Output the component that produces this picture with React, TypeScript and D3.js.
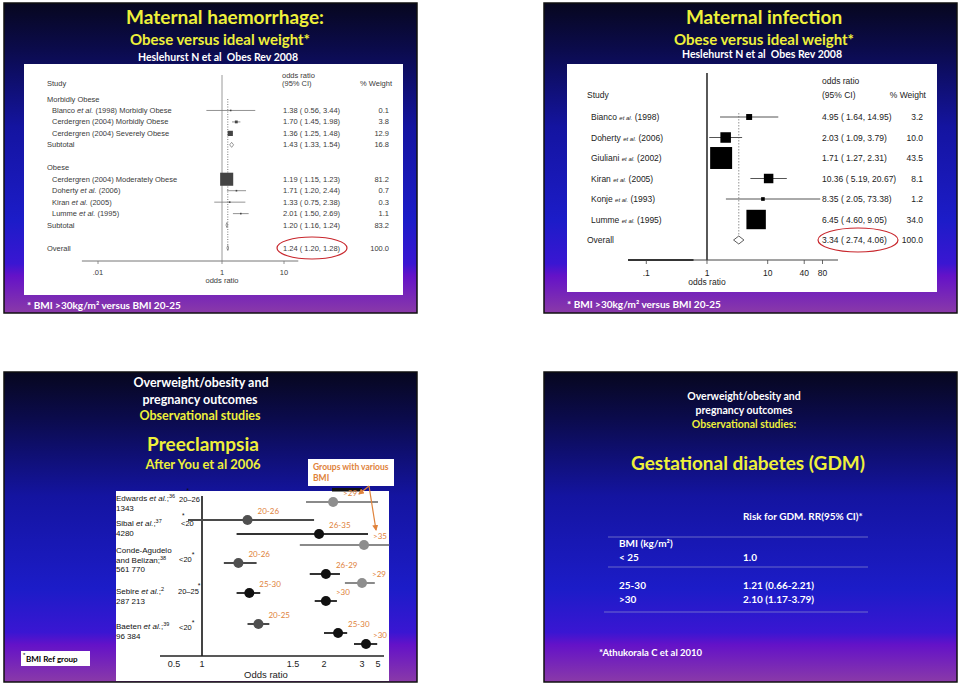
import React from "react";
import * as d3 from "d3";

// ---------- Slide 1: maternal haemorrhage ----------
const haemLabels = [
  "Blanco et al. (1998) Morbidly Obese",
  "Cerdergren (2004) Morbidly Obese",
  "Cerdergren (2004) Severely Obese",
  "Subtotal",
  "Cerdergren (2004) Moderately Obese",
  "Doherty et al. (2006)",
  "Kiran et al. (2005)",
  "Lumme et al. (1995)",
  "Subtotal",
  "Overall",
];
const haemKinds = ["study", "study", "study", "sub", "study", "study", "study", "study", "sub", "overall"];
const haemRows = [1, 2, 3, 4, 7, 8, 9, 10, 11, 13];
const haemOR = [1.38, 1.7, 1.36, 1.43, 1.19, 1.71, 1.33, 2.01, 1.2, 1.24];
const haemLo = [0.56, 1.45, 1.25, 1.33, 1.15, 1.2, 0.75, 1.5, 1.16, 1.2];
const haemHi = [3.44, 1.98, 1.48, 1.54, 1.23, 2.44, 2.38, 2.69, 1.24, 1.28];
const haemWeight = ["0.1", "3.8", "12.9", "16.8", "81.2", "0.7", "0.3", "1.1", "83.2", "100.0"];
const haemGroups = ["Morbidly Obese", "Obese"];
const haemGroupRows = [0, 6];
const haemTicks = [0.01, 1, 10];
const haemTickLabels = [".01", "1", "10"];

// ---------- Slide 2: maternal infection ----------
const infLabels = [
  "Bianco et al. (1998)",
  "Doherty et al. (2006)",
  "Giuliani et al. (2002)",
  "Kiran et al. (2005)",
  "Konje et al. (1993)",
  "Lumme et al. (1995)",
  "Overall",
];
const infOR = [4.95, 2.03, 1.71, 10.36, 8.35, 6.45, 3.34];
const infLo = [1.64, 1.09, 1.27, 5.19, 2.05, 4.6, 2.74];
const infHi = [14.95, 3.79, 2.31, 20.67, 73.38, 9.05, 4.06];
const infWeight = ["3.2", "10.0", "43.5", "8.1", "1.2", "34.0", "100.0"];
const infTicks = [0.1, 1, 10, 40, 80];
const infTickLabels = [".1", "1", "10", "40", "80"];

// ---------- Slide 3: preeclampsia ----------
const preStudies = ["Edwards", "Sibal", "Conde-Agudelo|and Belizan;", "Sebire", "Baeten"];
const preRefs = ["36", "37", "38", "2", "39"];
const preN = ["1343", "4280", "561 770", "287 213", "96 384"];
const preRefBMI = ["20–26", "<20", "<20", "20–25", "<20"];
const preLabelSlot = [-0.1, 2.4, 5.1, 9.2, 12.7];
const preBMI = [">29", "20-26", "26-35", ">35", "20-26", "26-29", ">29", "25-30", ">30", "20-25", "25-30", ">30"];
const preOR = [2.24, 1.25, 1.92, 3.25, 1.2, 2.05, 3.0, 1.26, 2.05, 1.31, 2.37, 3.5];
const preLo = [1.71, 0.75, 1.19, 1.61, 1.12, 1.77, 2.55, 1.19, 1.85, 1.25, 2.0, 2.79];
const preHi = [5.0, 1.84, 3.75, 6.4, 1.3, 2.42, 4.6, 1.32, 2.34, 1.37, 2.61, 4.9];
const preSlot = [0, 1.8, 3.2, 4.3, 6.1, 7.2, 8.1, 9.1, 9.9, 12.2, 13.1, 14.2];
const preShade = ["light", "mid", "dark", "light", "mid", "dark", "light", "dark", "dark", "mid", "dark", "dark"];
const preTicks = [0.5, 1, 1.5, 2, 3, 5];

// ---------- Slide 4: GDM ----------
const gdmBMI = ["< 25", "25-30", ">30"];
const gdmRR = ["1.0", "1.21 (0.66-2.21)", "2.10 (1.17-3.79)"];

const TITLE = "Lato, 'Open Sans', sans-serif";
const PLOT = "'Liberation Sans', Arial, sans-serif";
const YEL = "#eef03a";
const ORANGE = "#e0823a";

function withItalic(lbl: string, size: number) {
  const parts = lbl.split("et al.");
  if (parts.length === 1) return lbl;
  return [
    <tspan key="a">{parts[0]}</tspan>,
    <tspan key="b" fontStyle="italic" fontSize={size}>et al.</tspan>,
    <tspan key="c">{parts[1]}</tspan>,
  ];
}

const fmt = (v: number) => v.toFixed(2);

function Slide({ x, y }: { x: number; y: number }) {
  return <rect x={x} y={y} width={413} height={310} fill="url(#bg)" stroke="#111" strokeWidth={1.5} />;
}

function diamond(xl: number, xc: number, xr: number, yc: number, h: number) {
  return `M${xl},${yc} L${xc},${yc - h} L${xr},${yc} L${xc},${yc + h} Z`;
}

export default function App() {
  // plot 1 scales
  const x1 = d3.scaleLog().domain([0.01, 10]).range([98, 284]);
  const y1 = d3.scaleLinear().domain([0, 13]).range([99, 248]);
  // plot 2 scales
  const x2 = d3.scaleLog().domain([0.1, 80]).range([646.3, 822.5]);
  const y2 = d3.scaleLinear().domain([0, 6]).range([117, 240]);
  // plot 3 scales
  const x3 = d3.scaleLinear().domain(preTicks).range([174, 202, 293, 324, 362, 378]);
  const y3 = d3.scaleLinear().domain([0, 1]).range([502, 512]);
  const shadeFill: Record<string, string> = { light: "#8e8e8e", mid: "#505050", dark: "#111" };
  const shadeLine: Record<string, string> = { light: "#8a8a8a", mid: "#4a4a4a", dark: "#333" };
  const pre = { whiteSpace: "pre" as const };

  return (
    <svg width={960} height={686} style={{ position: "absolute", left: 0, top: 0, background: "#fff" }}>
      <defs>
        <linearGradient id="bg" x1="0" y1="0" x2="0" y2="1">
          <stop offset="0" stopColor="#07071f" />
          <stop offset="0.15" stopColor="#0b0b4c" />
          <stop offset="0.4" stopColor="#1414a0" />
          <stop offset="0.7" stopColor="#1c1cc8" />
          <stop offset="0.84" stopColor="#3a16d2" />
          <stop offset="0.88" stopColor="#6412c8" />
          <stop offset="1" stopColor="#8a3aa8" />
        </linearGradient>
        <marker id="arr" viewBox="0 0 6 6" refX="5" refY="3" markerWidth="5" markerHeight="5" orient="auto">
          <path d="M0,0 L6,3 L0,6 Z" fill={ORANGE} />
        </marker>
      </defs>

      {/* ================= Slide 1 ================= */}
      <Slide x={4} y={3} />
      <text x={225} y={24} fontSize={19} fontWeight="bold" fill={YEL} textAnchor="middle" fontFamily={TITLE}>Maternal haemorrhage:</text>
      <text x={220} y={45} fontSize={15} fontWeight="bold" fill={YEL} textAnchor="middle" fontFamily={TITLE}>Obese versus ideal weight*</text>
      <text x={218} y={61} fontSize={10.5} fontWeight="bold" fill="#fff" textAnchor="middle" fontFamily={TITLE} style={pre}>Heslehurst N et al  Obes Rev 2008</text>
      <rect x={24} y={64} width={379} height={231} fill="#fff" />
      <text x={27} y={309} fontSize={10} fontWeight="bold" fill="#fff" fontFamily={TITLE}>* BMI &gt;30kg/m² versus BMI 20-25</text>

      <g fontFamily={PLOT} fontSize={7.5} fill="#3a3a3a">
        <text x={47} y={86}>Study</text>
        <text x={282} y={78}>odds ratio</text>
        <text x={282} y={86}>(95% CI)</text>
        <text x={392} y={86} textAnchor="end">% Weight</text>
        {haemGroups.map((g, i) => (
          <text key={g} x={47} y={y1(haemGroupRows[i]) + 2.5}>{g}</text>
        ))}
        {/* reference line at OR = 1 */}
        <line x1={x1(1)} x2={x1(1)} y1={75} y2={261} stroke="#9a9a9a" strokeWidth={1} />
        {/* overall effect dotted line */}
        <line x1={x1(haemOR[9])} x2={x1(haemOR[9])} y1={y1(0)} y2={y1(13) + 2} stroke="#555" strokeWidth={0.8} strokeDasharray="1,1.5" />
        {haemLabels.map((lbl, i) => {
          const yy = y1(haemRows[i]);
          const k = haemKinds[i];
          const side = Math.max(1.6, 1.45 * Math.sqrt(parseFloat(haemWeight[i])));
          return (
            <g key={i}>
              <text x={k === "study" ? 52 : 47} y={yy + 2.5}>{withItalic(lbl, 7.5)}</text>
              <text x={283} y={yy + 2.5}>{`${fmt(haemOR[i])} ( ${fmt(haemLo[i])}, ${fmt(haemHi[i])})`}</text>
              <text x={389} y={yy + 2.5} textAnchor="end">{haemWeight[i]}</text>
              {k === "study" ? (
                <g>
                  <line x1={x1(haemLo[i])} x2={x1(haemHi[i])} y1={yy} y2={yy} stroke="#777" strokeWidth={0.8} />
                  <rect x={x1(haemOR[i]) - side / 2} y={yy - side / 2} width={side} height={side} fill="#444" />
                </g>
              ) : (
                <path d={diamond(x1(haemLo[i]), x1(haemOR[i]), x1(haemHi[i]), yy, 2.5)} fill="#fff" stroke="#555" strokeWidth={0.6} />
              )}
            </g>
          );
        })}
        <line x1={x1(0.0055)} x2={x1(17)} y1={261} y2={261} stroke="#777" strokeWidth={1} />
        {haemTicks.map((t, i) => (
          <g key={t}>
            <line x1={x1(t)} x2={x1(t)} y1={261} y2={264} stroke="#777" strokeWidth={0.8} />
            <text x={x1(t)} y={275} textAnchor="middle">{haemTickLabels[i]}</text>
          </g>
        ))}
        <text x={x1(1)} y={283} textAnchor="middle">odds ratio</text>
      </g>
      <ellipse cx={312} cy={248} rx={35} ry={11} fill="none" stroke="#c8262c" strokeWidth={1.2} />

      {/* ================= Slide 2 ================= */}
      <Slide x={544} y={3} />
      <text x={764} y={24} fontSize={19} fontWeight="bold" fill={YEL} textAnchor="middle" fontFamily={TITLE}>Maternal infection</text>
      <text x={764} y={45} fontSize={15} fontWeight="bold" fill={YEL} textAnchor="middle" fontFamily={TITLE}>Obese versus ideal weight*</text>
      <text x={762} y={58} fontSize={10.5} fontWeight="bold" fill="#fff" textAnchor="middle" fontFamily={TITLE} style={pre}>Heslehurst N et al  Obes Rev 2008</text>
      <rect x={567} y={64} width={370} height={228} fill="#fff" />
      <text x={567} y={308} fontSize={10} fontWeight="bold" fill="#fff" fontFamily={TITLE}>* BMI &gt;30kg/m² versus BMI 20-25</text>

      <g fontFamily={PLOT} fontSize={8.5} fill="#222">
        <text x={587} y={98}>Study</text>
        <text x={822} y={84}>odds ratio</text>
        <text x={822} y={98}>(95% CI)</text>
        <text x={926} y={98} textAnchor="end">% Weight</text>
        <line x1={x2(1)} x2={x2(1)} y1={73} y2={260} stroke="#111" strokeWidth={1.4} />
        <line x1={x2(infOR[6])} x2={x2(infOR[6])} y1={113} y2={236} stroke="#777" strokeWidth={0.8} strokeDasharray="1.5,1.5" />
        {infLabels.map((lbl, i) => {
          const yy = y2(i);
          const isOverall = i === infLabels.length - 1;
          const side = 3.33 * Math.sqrt(parseFloat(infWeight[i]));
          return (
            <g key={i}>
              <text x={isOverall ? 587 : 591} y={yy + 3}>{withItalic(lbl, 6)}</text>
              <text x={822} y={yy + 3}>{`${fmt(infOR[i])} ( ${fmt(infLo[i])}, ${fmt(infHi[i])})`}</text>
              <text x={923} y={yy + 3} textAnchor="end">{infWeight[i]}</text>
              {isOverall ? (
                <path d={diamond(x2(infLo[i]), x2(infOR[i]), x2(infHi[i]), yy, 4)} fill="#fff" stroke="#333" strokeWidth={0.8} />
              ) : (
                <g>
                  <line x1={x2(infLo[i])} x2={x2(infHi[i])} y1={yy} y2={yy} stroke="#555" strokeWidth={1} />
                  <rect x={x2(infOR[i]) - side / 2} y={yy - side / 2} width={side} height={side} fill="#000" />
                </g>
              )}
            </g>
          );
        })}
        <line x1={x2(0.05)} x2={x2(144)} y1={260} y2={260} stroke="#444" strokeWidth={1} />
        <line x1={x2(0.05)} x2={x2(0.6)} y1={260} y2={260} stroke="#111" strokeWidth={1.6} />
        {infTicks.map((t, i) => (
          <g key={t}>
            <line x1={x2(t)} x2={x2(t)} y1={260} y2={264} stroke="#444" strokeWidth={0.8} />
            <text x={x2(t)} y={276} textAnchor="middle">{infTickLabels[i]}</text>
          </g>
        ))}
        <text x={x2(1)} y={285} textAnchor="middle">odds ratio</text>
      </g>
      <ellipse cx={858} cy={240} rx={40} ry={12} fill="none" stroke="#c8262c" strokeWidth={1.2} />

      {/* ================= Slide 3 ================= */}
      <Slide x={4} y={372} />
      <g fontFamily={TITLE} fontWeight="bold" textAnchor="middle">
        <text x={201} y={387} fontSize={12.5} fill="#fff">Overweight/obesity and</text>
        <text x={200} y={404} fontSize={12.5} fill="#fff">pregnancy outcomes</text>
        <text x={200} y={420} fontSize={12.5} fill={YEL}>Observational studies</text>
        <text x={203} y={451} fontSize={19} fill={YEL}>Preeclampsia</text>
        <text x={203} y={469} fontSize={13} fill={YEL}>After You et al 2006</text>
      </g>
      <rect x={308} y={459} width={86} height={27} fill="#fff" />
      <text x={313} y={470} fontSize={8.5} fontWeight="bold" fill={ORANGE} fontFamily={TITLE}>Groups with various</text>
      <text x={313} y={481} fontSize={8.5} fontWeight="bold" fill={ORANGE} fontFamily={TITLE}>BMI</text>
      <rect x={116} y={491} width={273} height={190} fill="#fff" />
      <rect x={332} y={488} width={30} height={3.5} fill="#111" />

      <g fontFamily={PLOT} fontSize={8} fill="#111">
        {preStudies.map((s, i) => {
          const base = y3(preLabelSlot[i]);
          const lines = s.split("|");
          const nameLines = lines.length;
          return (
            <g key={s}>
              {lines.map((ln, j) => (
                <text key={j} x={116} y={base + j * 9.5}>
                  {j === nameLines - 1 && lines.length === 1 ? (
                    <>
                      {ln} <tspan fontStyle="italic">et al.</tspan>;<tspan fontSize={5.5} dy={-3}>{preRefs[i]}</tspan>
                    </>
                  ) : j === nameLines - 1 ? (
                    <>
                      {ln}
                      <tspan fontSize={5.5} dy={-3}>{preRefs[i]}</tspan>
                    </>
                  ) : (
                    ln
                  )}
                </text>
              ))}
              <text x={116} y={base + nameLines * 9.5}>{preN[i]}</text>
            </g>
          );
        })}
      </g>
      {/* reference group labels */}
      <g fontFamily={PLOT} fontSize={7.5} fill="#111">
        <text x={179} y={502}>{preRefBMI[0]}</text>
        <text x={186.5} y={493} fontSize={6.5}>*</text>
        <text x={181} y={526}>{preRefBMI[1]}</text>
        <text x={182} y={518} fontSize={6.5}>*</text>
        <text x={179} y={562}>{preRefBMI[2]}<tspan dy={-5} fontSize={7}>*</tspan></text>
        <text x={178} y={594}>{preRefBMI[3]}<tspan dy={-6} dx={-1} fontSize={7}>*</tspan></text>
        <text x={179} y={630}>{preRefBMI[4]}<tspan dy={-5} fontSize={7}>*</tspan></text>
      </g>
      {/* axes */}
      <line x1={x3(1)} x2={x3(1)} y1={496} y2={656} stroke="#444" strokeWidth={2} />
      <line x1={160} x2={384} y1={656} y2={656} stroke="#222" strokeWidth={1.5} />
      <g fontFamily={PLOT} fontSize={9} fill="#222" textAnchor="middle">
        {preTicks.map((t) => (
          <text key={t} x={x3(t)} y={667}>{String(t)}</text>
        ))}
        <text x={266} y={678} fontSize={9.5}>Odds ratio</text>
      </g>
      {/* points */}
      {preOR.map((v, i) => {
        const yy = y3(preSlot[i]);
        const lx = Math.min(x3(v) + 10, 373);
        return (
          <g key={i}>
            <line x1={x3(preLo[i])} x2={Math.min(x3(preHi[i]), 390)} y1={yy} y2={yy} stroke={shadeLine[preShade[i]]} strokeWidth={2} />
            <circle cx={x3(v)} cy={yy} r={5} fill={shadeFill[preShade[i]]} />
            <text x={lx} y={yy - 6} fontSize={8} fill={ORANGE} fontFamily={TITLE}>{preBMI[i]}</text>
          </g>
        );
      })}
      {/* arrows from the note box */}
      <line x1={369} y1={486} x2={359} y2={494} stroke={ORANGE} strokeWidth={1.2} markerEnd="url(#arr)" />
      <line x1={369} y1={486} x2={376} y2={530} stroke={ORANGE} strokeWidth={1.2} markerEnd="url(#arr)" />
      {/* BMI ref group note */}
      <rect x={21} y={651} width={69} height={15} fill="#fff" />
      <text x={23} y={657} fontSize={6} fill="#000" fontFamily={PLOT}>*</text>
      <text x={26} y={662} fontSize={8} fontWeight="bold" fill="#000" fontFamily={TITLE}>BMI Ref group</text>

      {/* ================= Slide 4 ================= */}
      <Slide x={544} y={372} />
      <g fontFamily={TITLE} fontWeight="bold" textAnchor="middle">
        <text x={744} y={400} fontSize={10.5} fill="#fff">Overweight/obesity and</text>
        <text x={744} y={414} fontSize={10.5} fill="#fff">pregnancy outcomes</text>
        <text x={744} y={428} fontSize={10.5} fill={YEL}>Observational studies:</text>
        <text x={748} y={470} fontSize={19} fill={YEL}>Gestational diabetes (GDM)</text>
      </g>
      <g fontFamily={TITLE} fontWeight="bold" fontSize={10} fill="#fff">
        <text x={743} y={520}>Risk for GDM. RR(95% CI)*</text>
        <line x1={608} x2={868} y1={537} y2={537} stroke="#8c8cd0" strokeWidth={0.7} />
        <text x={619} y={547}>BMI (kg/m²)</text>
        <text x={619} y={561}>{gdmBMI[0]}</text>
        <text x={743} y={561}>{gdmRR[0]}</text>
        <line x1={608} x2={868} y1={567} y2={567} stroke="#8c8cd0" strokeWidth={0.7} />
        <text x={619} y={589}>{gdmBMI[1]}</text>
        <text x={743} y={589}>{gdmRR[1]}</text>
        <text x={619} y={603}>{gdmBMI[2]}</text>
        <text x={743} y={603}>{gdmRR[2]}</text>
        <line x1={604} x2={868} y1={612} y2={612} stroke="#8c8cd0" strokeWidth={0.7} />
        <text x={599} y={656} fontSize={9.5}>*Athukorala C et al 2010</text>
      </g>
    </svg>
  );
}
